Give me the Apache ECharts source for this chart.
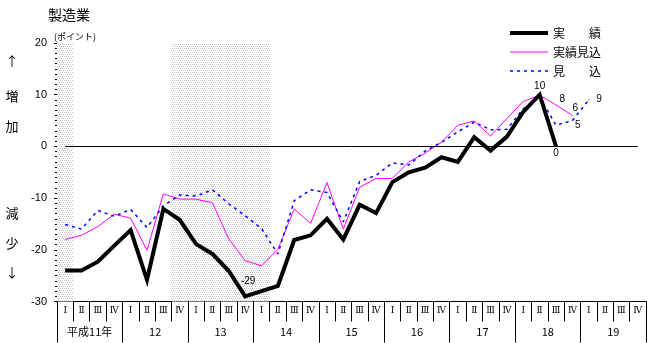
<!DOCTYPE html>
<html>
<head>
<meta charset="utf-8">
<script src="https://cdn.jsdelivr.net/npm/echarts@6/dist/echarts.min.js"></script>
<style>
  html, body { margin: 0; padding: 0; background: #fff; }
  #chart { width: 650px; height: 343px; }
</style>
</head>
<body>
<div id="chart"></div>
<script>
// Quarters from 平成11年 I to 平成19年 IV
const quarterLabels = [];
for (let y = 0; y < 9; y++) quarterLabels.push('Ⅰ', 'Ⅱ', 'Ⅲ', 'Ⅳ');
const yearLabels = ['平成11年', '12', '13', '14', '15', '16', '17', '18', '19'];

const seriesNames = ['実　　績', '実績見込', '見　　込'];

// 実績 (actual)
const actual = [-24, -24, -22.3, -19.2, -16.2, -25.8, -12.1, -14.2, -18.9, -20.8, -24.1, -29,
  -28, -27, -18.1, -17.2, -14, -18, -11.3, -12.9, -6.9, -5, -4.1, -2.1,
  -3, 1.8, -0.8, 1.9, 6.7, 10, 0];
// 実績見込 (estimated actual)
const estimated = [-18, -17.2, -15.5, -13.1, -13.9, -20.1, -9.2, -10.2, -10.2, -10.9, -17.9, -22.1,
  -23.1, -19.9, -12.1, -14.9, -7, -16, -7.9, -6.2, -6.2, -3, -1.3, 0.8,
  4.1, 4.9, 2.0, 5.4, 8.7, 9.9, 8, 6];
// 見込 (forecast)
const forecast = [-15.1, -16, -12.4, -13.5, -12.2, -15.7, -11.5, -9.4, -9.6, -8.4, -11.1, -13.4,
  -15.9, -20.8, -10.5, -8.4, -8.9, -14.6, -6.8, -5.6, -3.2, -3.6, -0.9, 0.8,
  2.8, 4.7, 3.2, 3.3, 7.3, 9.5, 4.1, 5, 9];
// shaded (recession) quarters
const recession = [1, 0, 0, 0, 0, 0, 0, 1, 1, 1, 1, 1, 1, 0, 0, 0, 0, 0,
  0, 0, 0, 0, 0, 0, 0, 0, 0, 0, 0, 0, 0, 0, 0, 0, 0, 0];

const yMin = -30, yMax = 20, yStep = 10;

const FONT = "'Liberation Sans', 'Noto Sans CJK JP', sans-serif";
const JFONT = "'Noto Sans CJK JP', sans-serif";
const RFONT = "'DejaVu Serif', 'Liberation Serif', serif";

// dotted screen used for the shaded bands
const pat = document.createElement('canvas');
pat.width = 2; pat.height = 4;
const pctx = pat.getContext('2d');
pctx.fillStyle = '#ffffff'; pctx.fillRect(0, 0, 2, 4);
pctx.fillStyle = '#c4c4c4';
pctx.fillRect(0, 0, 1, 1);
pctx.fillRect(1, 2, 1, 1);

// value labels: index -> label style
function withLabels(values, color, labels) {
  return values.map((v, i) => {
    const lab = labels[i];
    if (!lab) return v;
    return {
      value: v,
      symbol: 'circle',
      symbolSize: 1,
      itemStyle: { color: color },
      label: Object.assign({
        show: true, formatter: '{c}', color: '#000',
        fontSize: 10, fontFamily: FONT
      }, lab)
    };
  });
}

const actualData = withLabels(actual, '#000', {
  11: { position: 'top', distance: 5, offset: [3, -5] },
  29: { position: 'top', distance: 3 },
  30: { position: 'bottom', distance: 1 }
});
const estimatedData = withLabels(estimated, '#ff00ff', {
  30: { position: 'right', distance: 3, offset: [0, -6] },
  31: { position: 'top', distance: 2, offset: [3, 0] }
});
const forecastData = withLabels(forecast, '#0000ff', {
  31: { position: 'right', distance: 2, offset: [0, 5] },
  32: { position: 'right', distance: 7, offset: [0, -1] }
});

const sideText = [['↑', 61], ['増', 96], ['加', 126], ['減', 213], ['少', 243], ['↓', 272]];

const chart = echarts.init(document.getElementById('chart'), null, { renderer: 'canvas' });
chart.setOption({
  animation: false,
  backgroundColor: '#fff',
  title: [
    { text: '製造業', left: 43, top: 3,
      textStyle: { fontSize: 14, fontWeight: 'normal', color: '#000', fontFamily: JFONT } },
    { text: '(ポイント)', left: 49, top: 27,
      textStyle: { fontSize: 9, fontWeight: 'normal', color: '#000', fontFamily: JFONT } }
  ],
  legend: {
    data: [
      { name: seriesNames[0], lineStyle: { width: 4 } },
      { name: seriesNames[1], lineStyle: { width: 1 } },
      { name: seriesNames[2], lineStyle: { width: 1.5 } }
    ],
    orient: 'vertical',
    left: 503, top: 22,
    itemWidth: 38, itemHeight: 14, itemGap: 7,
    selectedMode: false,
    itemStyle: { opacity: 0 },
    textStyle: { fontSize: 12, color: '#000', fontFamily: JFONT }
  },
  graphic: sideText.map(([t, y]) => ({
    type: 'text', silent: true,
    style: { x: 12, y: y, text: t, textAlign: 'center', textVerticalAlign: 'middle',
      font: '13px ' + JFONT, fill: '#000' }
  })),
  grid: { left: 57, right: 4, top: 43, bottom: 41.5, containLabel: false },
  xAxis: [
    {
      type: 'category', data: quarterLabels, position: 'bottom', boundaryGap: true,
      axisLine: { show: true, onZero: false, lineStyle: { color: '#000', width: 1 } },
      axisTick: { show: true, interval: 0, length: 20, lineStyle: { color: '#000' } },
      axisLabel: { interval: 0, margin: 5, fontSize: 9, color: '#000', fontFamily: RFONT },
      splitLine: { show: false }
    },
    {
      type: 'category', data: yearLabels, position: 'bottom', boundaryGap: true,
      axisLine: { show: true, onZero: false, lineStyle: { color: '#000', width: 1 } },
      axisTick: { show: true, interval: 0, length: 41, lineStyle: { color: '#000' } },
      axisLabel: { interval: 0, margin: 25, fontSize: 11, color: '#000', fontFamily: JFONT },
      splitLine: { show: false }
    }
  ],
  yAxis: [
    {
      type: 'value', min: yMin, max: yMax, interval: yStep,
      axisLine: { show: true, lineStyle: { color: '#000', width: 1 } },
      axisTick: { show: true, length: 3, lineStyle: { color: '#000' } },
      minorTick: { show: true, splitNumber: 10, length: 2, lineStyle: { color: '#000' } },
      axisLabel: { margin: 10, fontSize: 11, color: '#000', fontFamily: FONT },
      splitLine: { show: false }
    },
    { type: 'value', min: 0, max: 1, show: false }
  ],
  series: [
    {
      name: 'shade', type: 'bar', xAxisIndex: 0, yAxisIndex: 1,
      data: recession, barWidth: '100%', barGap: '0%', silent: true, z: 0,
      itemStyle: { color: { image: pat, repeat: 'repeat' } }
    },
    {
      name: seriesNames[1], type: 'line', data: estimatedData, z: 3,
      symbol: 'none', showSymbol: true, showAllSymbol: true,
      lineStyle: { color: '#ff00ff', width: 1 }, itemStyle: { color: '#ff00ff' }
    },
    {
      name: seriesNames[2], type: 'line', data: forecastData, z: 4,
      symbol: 'none', showSymbol: true, showAllSymbol: true,
      lineStyle: { color: '#0000ff', width: 1.5, type: [3, 4] }, itemStyle: { color: '#0000ff' }
    },
    {
      name: seriesNames[0], type: 'line', data: actualData, z: 5,
      symbol: 'none', showSymbol: true, showAllSymbol: true,
      lineStyle: { color: '#000', width: 4, join: 'miter' }, itemStyle: { color: '#000' },
      markLine: {
        silent: true, symbol: ['none', 'none'], label: { show: false },
        lineStyle: { color: '#000', width: 1, type: 'solid' },
        data: [[{ coord: [0, 0] }, { coord: [quarterLabels.length - 1, 0] }]]
      }
    }
  ]
});
</script>
</body>
</html>
